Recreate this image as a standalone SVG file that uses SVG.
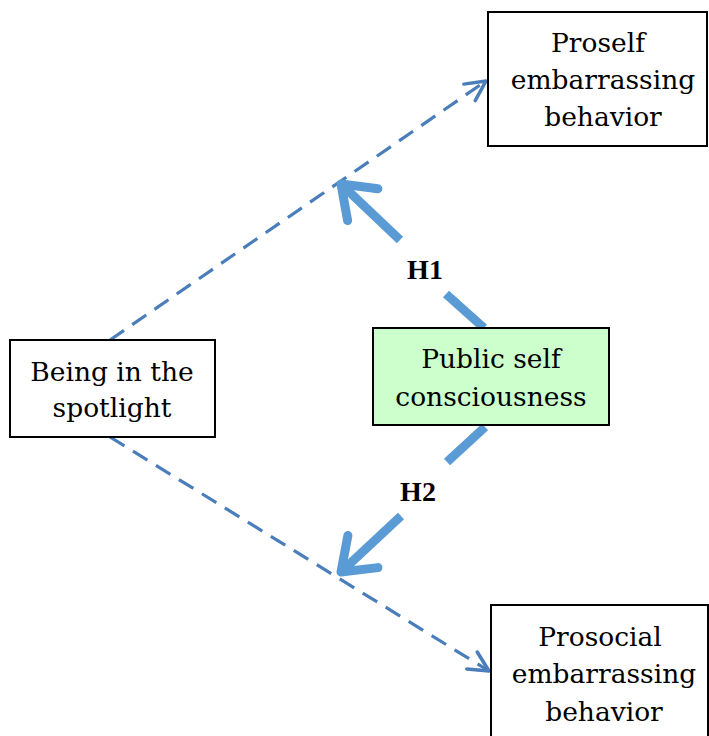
<svg xmlns="http://www.w3.org/2000/svg" width="709" height="736" viewBox="0 0 709 736">
<style>
.box{fill:#fff;stroke:#000;stroke-width:2}
.green{fill:#ccffcc}
.t{font-family:"DejaVu Serif","Liberation Serif",serif;font-size:26.5px;fill:#000;text-anchor:middle}
.lbl{font-family:"Liberation Serif","DejaVu Serif",serif;font-size:28px;font-weight:bold;fill:#000;text-anchor:middle}
.dash{fill:none;stroke:#4a7ebb;stroke-width:3.2;stroke-dasharray:17 10}
.thick{fill:none;stroke:#5b9bd5;stroke-width:9}
</style>
<defs>
<marker id="chev" markerUnits="userSpaceOnUse" viewBox="-24 -14 28 28" refX="0" refY="0" markerWidth="28" markerHeight="28" orient="auto">
<path d="M-20,-10 L0,0 L-20,10" fill="none" stroke="#4a7ebb" stroke-width="3.5" stroke-linecap="round" stroke-linejoin="round"/>
</marker>
<marker id="big" markerUnits="userSpaceOnUse" viewBox="-40 -30 46 60" refX="0" refY="0" markerWidth="46" markerHeight="60" orient="auto">
<path d="M-30,-22 L0,0 L-30,22" fill="none" stroke="#5b9bd5" stroke-width="9" stroke-linecap="round" stroke-linejoin="round"/>
</marker>
</defs>
<g id="connectors">
<path class="dash" d="M110,340 L486,81" marker-end="url(#chev)"/>
<path class="dash" d="M110,437 L489,671" marker-end="url(#chev)"/>
<line class="thick" x1="484" y1="328" x2="446" y2="294"/>
<line class="thick" x1="400" y1="240" x2="341" y2="184" marker-end="url(#big)"/>
<line class="thick" x1="485" y1="427" x2="447" y2="462"/>
<line class="thick" x1="401" y1="516" x2="341" y2="572" marker-end="url(#big)"/>
<text class="lbl" x="425" y="279">H1</text>
<text class="lbl" x="418" y="501">H2</text>
</g>
<g id="spotlight">
<rect class="box" x="10" y="340" width="205" height="97"/>
<text class="t" x="112" y="381">Being in the</text>
<text class="t" x="112" y="417">spotlight</text>
</g>
<g id="public">
<rect class="box green" x="373" y="328" width="236" height="97"/>
<text class="t" x="491" y="368">Public self</text>
<text class="t" x="491" y="406">consciousness</text>
</g>
<g id="proself">
<rect class="box" x="488" y="12" width="219" height="134"/>
<text class="t" x="598" y="52">Proself</text>
<text class="t" x="603" y="89">embarrassing</text>
<text class="t" x="603" y="126">behavior</text>
</g>
<g id="prosocial">
<rect class="box" x="491" y="605" width="217" height="140"/>
<text class="t" x="600" y="646">Prosocial</text>
<text class="t" x="604" y="683">embarrassing</text>
<text class="t" x="604" y="721">behavior</text>
</g>
</svg>
